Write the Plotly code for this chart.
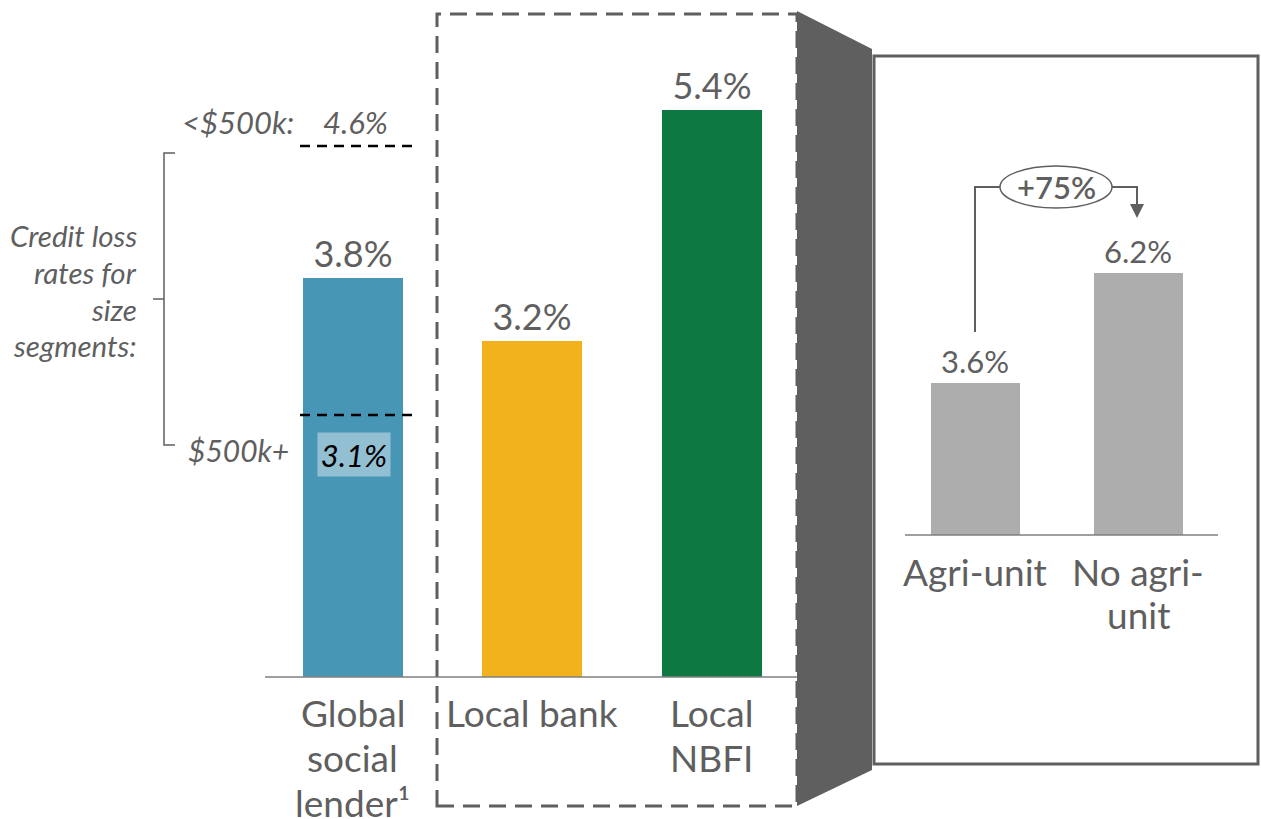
import plotly.graph_objects as go

# Main comparison of credit loss rates
categories = ["Global<br>social<br>lender¹", "Local bank", "Local<br>NBFI"]
loss_rates = [3.8, 3.2, 5.4]
bar_colours = ["#4796b6", "#f2b21e", "#0e7843"]

# Size segments for the global social lender
segment_labels = ["<$500k:", "$500k+"]
segment_rates = [4.6, 3.1]
bracket_label = "Credit loss<br>rates for<br>size<br>segments:"

# Zoom-in panel: agri-unit split
agri_categories = ["Agri-unit", "No agri-<br>unit"]
agri_rates = [3.6, 6.2]
agri_change = "+75%"

W, H = 1261, 819
GREY_TEXT = "#5f5f5f"
FONT = "Lato"


def px(x):
    return x / W


def py(y):
    return 1 - y / H


fig = go.Figure()

fig.add_trace(go.Bar(
    x=[0, 1, 2],
    y=loss_rates,
    width=0.557,
    marker=dict(color=bar_colours, line=dict(width=0)),
    text=[f"{v:.1f}%" for v in loss_rates],
    textposition="outside",
    textfont=dict(size=36, color=GREY_TEXT, family=FONT),
    cliponaxis=False,
    hoverinfo="skip",
    xaxis="x", yaxis="y"
))

fig.add_trace(go.Bar(
    x=[0, 1],
    y=agri_rates,
    width=0.55,
    marker=dict(color="#acadac", line=dict(width=0)),
    text=[f"{v:.1f}%" for v in agri_rates],
    textposition="outside",
    textfont=dict(size=31, color=GREY_TEXT, family=FONT),
    cliponaxis=False,
    hoverinfo="skip",
    xaxis="x2", yaxis="y2"
))

shapes = []
# Dashed box around the local lenders.
shapes.append(dict(type="rect", xref="paper", yref="paper",
                   x0=px(437), x1=px(797), y0=py(806), y1=py(14),
                   line=dict(color=GREY_TEXT, width=3, dash="17px,9px")))
# Right hand panel frame.
shapes.append(dict(type="rect", xref="paper", yref="paper",
                   x0=px(874), x1=px(1258), y0=py(764), y1=py(56),
                   line=dict(color=GREY_TEXT, width=3)))
# Zoom connector.
shapes.append(dict(type="path", xref="paper", yref="paper",
                   path=f"M {px(797)},{py(11)} L {px(872)},{py(49)} L {px(872)},{py(770)} "
                        f"L {px(797)},{py(806)} Z",
                   fillcolor=GREY_TEXT, line=dict(width=0), layer="above"))
# Baselines.
shapes.append(dict(type="line", xref="paper", yref="paper",
                   x0=px(265), x1=px(797), y0=py(677), y1=py(677),
                   line=dict(color="#7f7f7f", width=1.5)))
shapes.append(dict(type="line", xref="paper", yref="paper",
                   x0=px(905), x1=px(1218), y0=py(535), y1=py(535),
                   line=dict(color="#7f7f7f", width=1.5)))
# Segment dashed lines.
for yy in [146, 415]:
    shapes.append(dict(type="line", xref="paper", yref="paper",
                       x0=px(300), x1=px(412), y0=py(yy), y1=py(yy),
                       line=dict(color="black", width=2.5, dash="10px,7px"), layer="above"))
# Bracket.
shapes.append(dict(type="path", xref="paper", yref="paper",
                   path=f"M {px(175)},{py(153)} L {px(164)},{py(153)} L {px(164)},{py(445)} "
                        f"L {px(175)},{py(445)}",
                   line=dict(color=GREY_TEXT, width=1.5)))
shapes.append(dict(type="line", xref="paper", yref="paper",
                   x0=px(153), x1=px(164), y0=py(299), y1=py(299),
                   line=dict(color=GREY_TEXT, width=1.5)))
# Change arrow.
shapes.append(dict(type="path", xref="paper", yref="paper",
                   path=f"M {px(975)},{py(332)} L {px(975)},{py(187)} L {px(1000)},{py(187)}",
                   line=dict(color=GREY_TEXT, width=2)))
shapes.append(dict(type="path", xref="paper", yref="paper",
                   path=f"M {px(1112)},{py(187)} L {px(1137)},{py(187)} L {px(1137)},{py(205)}",
                   line=dict(color=GREY_TEXT, width=2)))
shapes.append(dict(type="path", xref="paper", yref="paper",
                   path=f"M {px(1130)},{py(204)} L {px(1144)},{py(204)} L {px(1137)},{py(218)} Z",
                   fillcolor=GREY_TEXT, line=dict(width=0)))
shapes.append(dict(type="circle", xref="paper", yref="paper",
                   x0=px(1000), x1=px(1112), y0=py(208), y1=py(166),
                   line=dict(color=GREY_TEXT, width=1.5), fillcolor="white"))

annotations = []


def add_lines(text, x, xref, y_first, step, size, style="normal", xanchor="center"):
    # One annotation per line so the line spacing matches the reference.
    for j, line in enumerate(text.split("<br>")):
        annotations.append(dict(x=x, xref=xref, y=py(y_first + j * step), yref="paper",
                                text=line, showarrow=False, yanchor="middle", xanchor=xanchor,
                                font=dict(size=size, color=GREY_TEXT, family=FONT, style=style)))


for i, lab in enumerate(categories):
    add_lines(lab, i, "x", 712, 45, 37)
for i, lab in enumerate(agri_categories):
    add_lines(lab, i, "x2", 571, 43, 37)
add_lines(bracket_label, px(139), "paper", 236, 36.5, 29.5, style="italic", xanchor="right")

annotations.append(dict(x=px(1056), y=py(187), xref="paper", yref="paper", text=agri_change,
                        showarrow=False, font=dict(size=31, color=GREY_TEXT, family=FONT, weight=600),
                        xanchor="center", yanchor="middle"))
annotations.append(dict(x=px(296), y=py(122), xref="paper", yref="paper",
                        text=segment_labels[0], showarrow=False,
                        xanchor="right", yanchor="middle",
                        font=dict(size=31, color=GREY_TEXT, family=FONT, style="italic")))
annotations.append(dict(x=px(355), y=py(122), xref="paper", yref="paper",
                        text=f"{segment_rates[0]:.1f}%", showarrow=False,
                        xanchor="center", yanchor="middle",
                        font=dict(size=31, color=GREY_TEXT, family=FONT, style="italic")))
annotations.append(dict(x=px(291), y=py(450), xref="paper", yref="paper",
                        text=segment_labels[1], showarrow=False,
                        xanchor="right", yanchor="middle",
                        font=dict(size=30, color=GREY_TEXT, family=FONT, style="italic")))
annotations.append(dict(x=px(354), y=py(454), xref="paper", yref="paper",
                        text=f"{segment_rates[1]:.1f}%", showarrow=False,
                        xanchor="center", yanchor="middle", bgcolor="#93bfd3",
                        borderpad=0, width=72, height=43,
                        font=dict(size=31, color="black", family=FONT, style="italic")))

fig.update_layout(
    width=W, height=H,
    margin=dict(t=0, l=0, r=0, b=0),
    plot_bgcolor="white", paper_bgcolor="white",
    showlegend=False,
    bargap=0,
    xaxis=dict(domain=[px(263), px(801.5)], range=[-0.5, 2.5], visible=False),
    yaxis=dict(domain=[py(677), py(47)], range=[0, 6], visible=False),
    xaxis2=dict(domain=[px(893.5), px(1219.5)], range=[-0.5, 1.5], visible=False, anchor="y2"),
    yaxis2=dict(domain=[py(535), py(113)], range=[0, 10], visible=False, anchor="x2"),
    shapes=shapes,
    annotations=annotations,
    font=dict(family=FONT, color=GREY_TEXT)
)

# Drop the default page margin so the figure fills the window exactly.
fig.write_html("out.html", config={"displayModeBar": False},
               post_script="document.body.style.margin='0';")
